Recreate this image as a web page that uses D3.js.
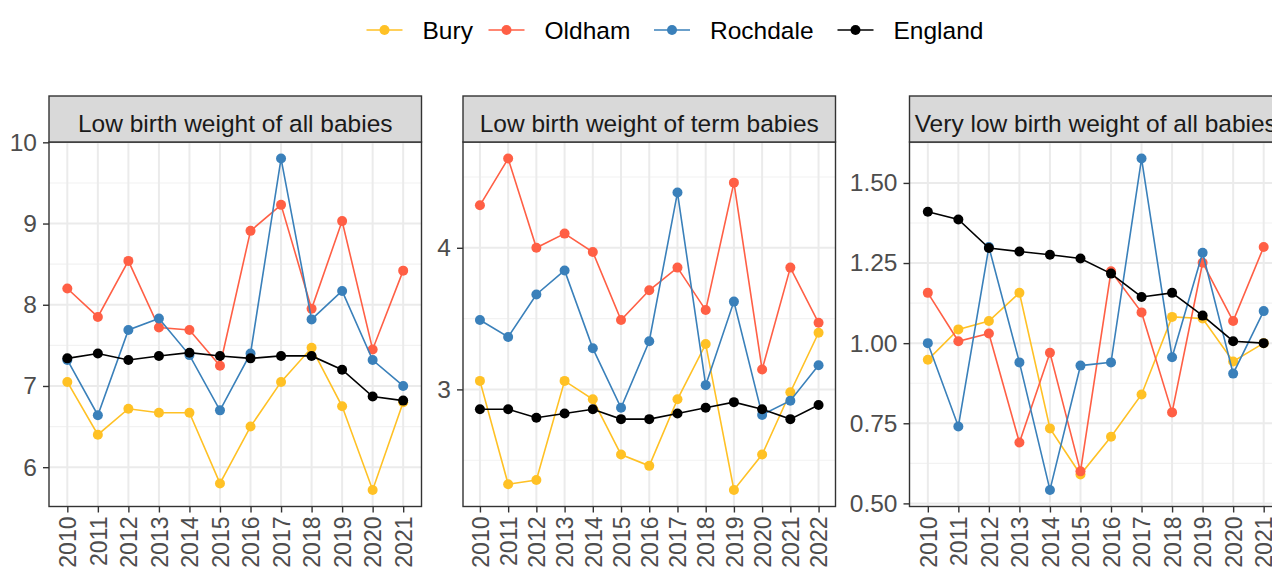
<!DOCTYPE html>
<html lang="en">
<head>
  <meta charset="UTF-8">
  <title>Birth weight indicators</title>
  <script src="https://d3js.org/d3.v7.min.js"></script>
  <style>
    body { margin: 0; background: #fff; }
    svg { display: block; font-family: "Liberation Sans", Arial, sans-serif; }
  </style>
</head>
<body>
  <svg id="chart" width="1272" height="570"></svg>
  <script>
    const areas = ["Bury", "Oldham", "Rochdale", "England"];
    const areaColours = ["#FFC125", "#FF5F45", "#3A80BA", "#000000"];

    const titles = ["Low birth weight of all babies", "Low birth weight of term babies", "Very low birth weight of all babies"];

    const yearsAll = ["2010", "2011", "2012", "2013", "2014", "2015", "2016", "2017", "2018", "2019", "2020", "2021"];
    const yearsTerm = ["2010", "2011", "2012", "2013", "2014", "2015", "2016", "2017", "2018", "2019", "2020", "2021", "2022"];

    // low birth weight of all babies (%)
    const lbwBury = [7.05, 6.40, 6.72, 6.67, 6.67, 5.80, 6.50, 7.05, 7.47, 6.75, 5.72, 6.80];
    const lbwOldham = [8.20, 7.85, 8.54, 7.72, 7.69, 7.25, 8.91, 9.23, 7.95, 9.03, 7.45, 8.42];
    const lbwRochdale = [7.32, 6.64, 7.69, 7.83, 7.38, 6.70, 7.40, 9.80, 7.82, 8.17, 7.32, 7.00];
    const lbwEngland = [7.34, 7.40, 7.32, 7.37, 7.41, 7.37, 7.34, 7.37, 7.37, 7.20, 6.87, 6.82];

    // low birth weight of term babies (%)
    const termBury = [3.06, 2.33, 2.36, 3.06, 2.93, 2.54, 2.46, 2.93, 3.32, 2.29, 2.54, 2.98, 3.40];
    const termOldham = [4.30, 4.63, 4.00, 4.10, 3.97, 3.49, 3.70, 3.86, 3.56, 4.46, 3.14, 3.86, 3.47];
    const termRochdale = [3.49, 3.37, 3.67, 3.84, 3.29, 2.87, 3.34, 4.39, 3.03, 3.62, 2.82, 2.92, 3.17];
    const termEngland = [2.86, 2.86, 2.80, 2.83, 2.86, 2.79, 2.79, 2.83, 2.87, 2.91, 2.86, 2.79, 2.89];

    // very low birth weight of all babies (%)
    const vlbwBury = [0.948, 1.043, 1.069, 1.157, 0.734, 0.590, 0.708, 0.840, 1.082, 1.077, 0.943, 1.000];
    const vlbwOldham = [1.157, 1.006, 1.030, 0.690, 0.970, 0.600, 1.224, 1.096, 0.784, 1.251, 1.069, 1.300];
    const vlbwRochdale = [1.000, 0.740, 1.300, 0.940, 0.542, 0.930, 0.940, 1.576, 0.956, 1.282, 0.905, 1.100];
    const vlbwEngland = [1.410, 1.386, 1.297, 1.286, 1.276, 1.264, 1.217, 1.144, 1.157, 1.086, 1.006, 1.000];

    const yTicks1 = [6, 7, 8, 9, 10];
    const yTicks2 = [3, 4];
    const yTicks3 = [0.5, 0.75, 1, 1.25, 1.5];

    const panels = [
      { title: titles[0], years: yearsAll, series: [lbwBury, lbwOldham, lbwRochdale, lbwEngland], ticks: yTicks1, fmt: d3.format("d") },
      { title: titles[1], years: yearsTerm, series: [termBury, termOldham, termRochdale, termEngland], ticks: yTicks2, fmt: d3.format("d") },
      { title: titles[2], years: yearsAll, series: [vlbwBury, vlbwOldham, vlbwRochdale, vlbwEngland], ticks: yTicks3, fmt: d3.format(".2f") }
    ];

    // layout
    const panelLeft = [49, 463, 909.5];
    const panelWidth = 372.5;
    const stripTop = 96, plotTop = 142, plotBottom = 506.5;
    const fontSize = 24.5;
    const xFontSize = 23;

    const svg = d3.select("#chart");
    const colour = d3.scaleOrdinal().domain(areas).range(areaColours);

    panels.forEach((p, k) => {
      const x0 = panelLeft[k], x1 = x0 + panelWidth;
      const g = svg.append("g");

      const x = d3.scalePoint().domain(p.years).range([x0, x1]).padding(0.6);
      const all = p.series.flat();
      const lo = d3.min(all), hi = d3.max(all), pad = (hi - lo) * 0.05;
      const y = d3.scaleLinear().domain([lo - pad, hi + pad]).range([plotBottom, plotTop]);

      // minor grid (midpoints between majors)
      const step = p.ticks[1] - p.ticks[0];
      const minors = [p.ticks[0] - step / 2].concat(p.ticks.map(t => t + step / 2))
        .filter(v => v >= y.domain()[0] && v <= y.domain()[1]);
      g.selectAll(".minor").data(minors).enter().append("line")
        .attr("x1", x0).attr("x2", x1)
        .attr("y1", d => y(d)).attr("y2", d => y(d))
        .attr("stroke", "#F2F2F2").attr("stroke-width", 1.1);

      // major grid
      g.selectAll(".hmaj").data(p.ticks).enter().append("line")
        .attr("x1", x0).attr("x2", x1)
        .attr("y1", d => y(d)).attr("y2", d => y(d))
        .attr("stroke", "#EBEBEB").attr("stroke-width", 2);
      g.selectAll(".vmaj").data(p.years).enter().append("line")
        .attr("x1", d => x(d)).attr("x2", d => x(d))
        .attr("y1", plotTop).attr("y2", plotBottom)
        .attr("stroke", "#EBEBEB").attr("stroke-width", 2);

      // lines and points
      const line = d3.line().x((d, i) => x(p.years[i])).y(d => y(d));
      p.series.forEach((vals, s) => {
        g.append("path")
          .attr("d", line(vals))
          .attr("fill", "none")
          .attr("stroke", areaColours[s])
          .attr("stroke-width", 1.6);
        g.selectAll(".pt" + s).data(vals).enter().append("circle")
          .attr("cx", (d, i) => x(p.years[i]))
          .attr("cy", d => y(d))
          .attr("r", 5)
          .attr("fill", areaColours[s]);
      });

      // panel border
      g.append("rect")
        .attr("x", x0).attr("y", plotTop)
        .attr("width", panelWidth).attr("height", plotBottom - plotTop)
        .attr("fill", "none").attr("stroke", "#333333").attr("stroke-width", 1.4);

      // strip
      g.append("rect")
        .attr("x", x0).attr("y", stripTop)
        .attr("width", panelWidth).attr("height", plotTop - stripTop)
        .attr("fill", "#D9D9D9").attr("stroke", "#333333").attr("stroke-width", 1.4);
      g.append("text")
        .attr("x", (x0 + x1) / 2).attr("y", (stripTop + plotTop) / 2 + 4)
        .attr("dy", "0.35em")
        .attr("text-anchor", "middle")
        .attr("font-size", fontSize)
        .attr("fill", "#1A1A1A")
        .text(p.title);

      // y axis
      const yAxis = g.append("g")
        .attr("transform", `translate(${x0},0)`)
        .call(d3.axisLeft(y).tickValues(p.ticks).tickFormat(p.fmt).tickSize(6).tickPadding(6));
      yAxis.select(".domain").remove();
      yAxis.selectAll(".tick line").attr("stroke", "#333333").attr("stroke-width", 1.4);
      yAxis.selectAll(".tick text").attr("font-size", fontSize).attr("fill", "#4D4D4D")
        .attr("font-family", "Liberation Sans, Arial, sans-serif");

      // x axis
      const xAxis = g.append("g")
        .attr("transform", `translate(0,${plotBottom})`)
        .call(d3.axisBottom(x).tickSize(6).tickPadding(4));
      xAxis.select(".domain").remove();
      xAxis.selectAll(".tick line").attr("stroke", "#333333").attr("stroke-width", 1.4);
      xAxis.selectAll(".tick text")
        .attr("font-size", xFontSize).attr("fill", "#4D4D4D")
        .attr("font-family", "Liberation Sans, Arial, sans-serif")
        .attr("transform", "rotate(-90)")
        .attr("text-anchor", "end")
        .attr("x", -10).attr("y", 0).attr("dy", "0.36em");
    });

    // legend
    const legendX = [366.5, 488.5, 654, 837.5];
    const legendY = 30;
    const legend = svg.selectAll(".legend").data(areas).enter().append("g")
      .attr("transform", (d, i) => `translate(${legendX[i]},${legendY})`);
    legend.append("line")
      .attr("x1", 0).attr("x2", 36).attr("y1", 0).attr("y2", 0)
      .attr("stroke", d => colour(d)).attr("stroke-width", 1.6);
    legend.append("circle")
      .attr("cx", 18).attr("cy", 0).attr("r", 5)
      .attr("fill", d => colour(d));
    legend.append("text")
      .attr("x", 56).attr("y", 0).attr("dy", "0.35em")
      .attr("font-size", fontSize).attr("fill", "#000")
      .text(d => d);
  </script>
</body>
</html>
